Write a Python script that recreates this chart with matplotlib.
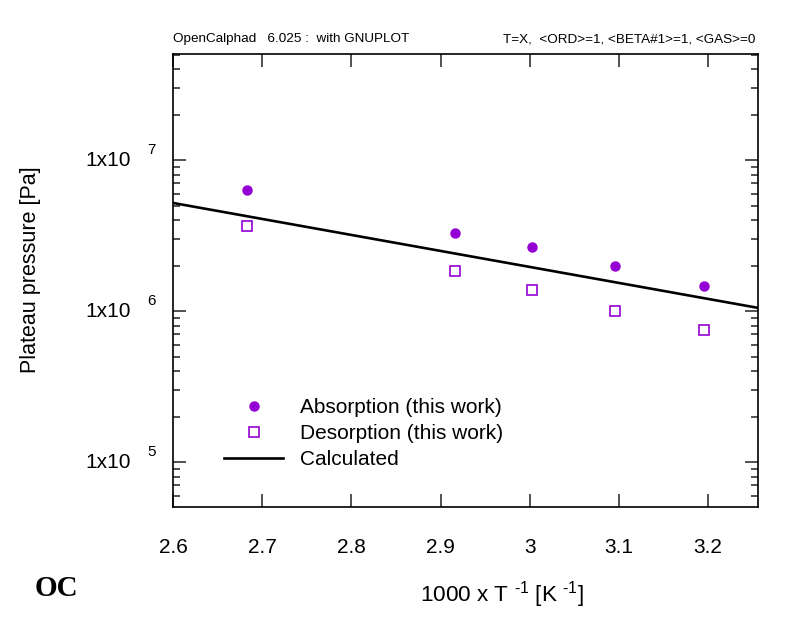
import numpy as np
import matplotlib
matplotlib.use("Agg")
import matplotlib.pyplot as plt
from matplotlib.ticker import LogLocator, NullFormatter

plt.rcParams['font.family'] = ['Liberation Sans', 'DejaVu Sans']
plt.rcParams['mathtext.fontset'] = 'custom'
plt.rcParams['mathtext.rm'] = 'Liberation Sans'

# data
inv_T = [2.683, 2.916, 3.003, 3.096, 3.195]
p_abs = [6.3e6, 3.3e6, 2.66e6, 1.99e6, 1.47e6]
p_des = [3.66e6, 1.84e6, 1.38e6, 1.0e6, 7.5e5]
calc_x = [2.6, 3.256]
calc_p = [5.2e6, 1.05e6]

xticks = [2.6, 2.7, 2.8, 2.9, 3.0, 3.1, 3.2]
xticklabels = ['2.6', '2.7', '2.8', '2.9', '3', '3.1', '3.2']
ydecades = [5, 6, 7]

purple = '#9400d3'

fig = plt.figure(figsize=(8.03, 6.24), dpi=100)
ax = fig.add_axes([173/803, 1-507/624, (758-173)/803, (507-54)/624])

ax.plot(inv_T, p_abs, 'o', color=purple, ms=6.5, mec=purple, label='Absorption (this work)')
ax.plot(inv_T, p_des, 's', color=purple, mfc='none', ms=6.5, mew=1.2, label='Desorption (this work)')
ax.plot(calc_x, calc_p, '-', color='black', lw=1.9, label='Calculated')

ax.set_yscale('log')
ax.set_xlim(2.6, 3.256)
ax.set_ylim(5.04e4, 5.04e7)

ax.set_xticks(xticks)
ax.set_xticklabels(xticklabels, fontsize=15)
ax.yaxis.set_major_locator(LogLocator(base=10, numticks=10))
ax.yaxis.set_minor_locator(LogLocator(base=10, subs=np.arange(2, 10), numticks=20))
ax.yaxis.set_major_formatter(NullFormatter())
ax.yaxis.set_minor_formatter(NullFormatter())

ax.tick_params(which='both', direction='in', top=True, right=True, color='#333333')
ax.tick_params(which='major', length=9.5, width=1.2)
ax.tick_params(which='minor', length=5, width=1.2)
ax.tick_params(axis='x', pad=22)
for s in ax.spines.values():
    s.set_linewidth(1.2)

# y tick labels drawn gnuplot style: 1x10 with exponent
trans = ax.get_yaxis_transform()
for d in ydecades:
    ax.text(-0.072, 10**d, '1x10', transform=trans, ha='right', va='center', fontsize=15)
    ax.text(-0.037, 10**(d + 0.065), str(d), transform=trans, ha='center', va='center', fontsize=11)

fig.text(31/803, 1-270/624, 'Plateau pressure [Pa]', rotation=90, ha='center', va='center', fontsize=15.5)
fig.text(502/803, 1-595/624, r'1000 x T $^{\text{-1}}$ [K $^{\text{-1}}$]',
         ha='center', va='center', fontsize=16.2)

fig.text(173/803, 1-39/624, 'OpenCalphad   6.025 :  with GNUPLOT', ha='left', va='center', fontsize=9.7)
fig.text(755/803, 1-39/624, 'T=X,  <ORD>=1, <BETA#1>=1, <GAS>=0', ha='right', va='center', fontsize=9.7)

# OC logo
fig.text(35/803, 1-589/624, 'OC', family='Liberation Serif', weight='bold', fontsize=21, ha='left', va='center')

ax.legend(loc='lower left', bbox_to_anchor=(0.07, 0.061), frameon=False, fontsize=15,
          handlelength=2.8, handletextpad=0.85, labelspacing=0.33, borderpad=0)

fig.savefig('out.png', dpi=100)
